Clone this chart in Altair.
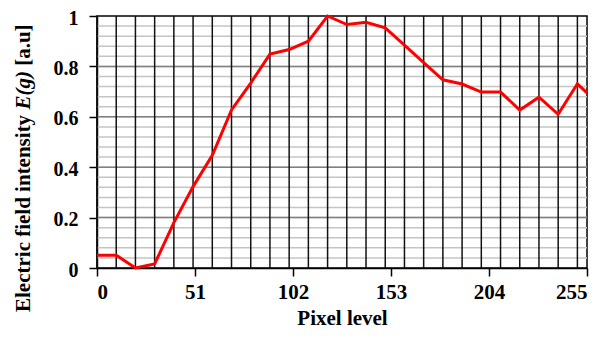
import altair as alt
import pandas as pd

pixel = [0, 10, 20, 30, 40, 50, 60, 70, 80, 90, 100, 110, 120, 130, 140, 150,
         160, 170, 180, 190, 200, 210, 220, 230, 240, 250, 255]
intensity = [0.051, 0.051, 0.0, 0.016, 0.18, 0.323, 0.447, 0.627, 0.734, 0.849,
             0.867, 0.90, 1.0, 0.966, 0.975, 0.953, 0.884, 0.815, 0.747, 0.73,
             0.698, 0.698, 0.627, 0.678, 0.61, 0.731, 0.695]
x_ticks = [0, 51, 102, 153, 204, 255]
y_ticks = [0, 0.2, 0.4, 0.6, 0.8, 1.0]
v_grid = list(range(0, 251, 10))
h_minor = [round(i * 0.04, 2) for i in range(1, 25)]
h_major = [0.2, 0.4, 0.6, 0.8]
y_title_parts = ["Electric field intensity", "E(g)", "[a.u]"]

FONT = "Liberation Serif"
FS = 21

df = pd.DataFrame({"pixel": pixel, "E": intensity})
xs = alt.Scale(domain=[0, 255], nice=False, zero=False)
ys = alt.Scale(domain=[0, 1], nice=False)

x_axis = alt.Axis(values=x_ticks, title="Pixel level", grid=False,
                  tickSize=8, labelPadding=5, titlePadding=5,
                  labelFontSize=FS, titleFontSize=FS)
y_axis = alt.Axis(values=y_ticks, format="~g", title=None,
                  grid=False, tickSize=8, labelPadding=11, labelOffset=2,
                  labelFontSize=20)

minor = alt.Chart(pd.DataFrame({"y": h_minor})).mark_rule(
    color="#c4c4c4", strokeWidth=1.5
).encode(y=alt.Y("y:Q", scale=ys, axis=y_axis))

major = alt.Chart(pd.DataFrame({"y": h_major})).mark_rule(
    color="#808080", strokeWidth=1.5
).encode(y=alt.Y("y:Q", scale=ys, axis=y_axis))

vert = alt.Chart(pd.DataFrame({"x": v_grid})).mark_rule(
    color="#111111", strokeWidth=1.5
).encode(x=alt.X("x:Q", scale=xs, axis=x_axis))

line = alt.Chart(df).mark_line(color="#ff0000", strokeWidth=3).encode(
    x=alt.X("pixel:Q", scale=xs, axis=x_axis),
    y=alt.Y("E:Q", scale=ys, axis=y_axis),
)

# y-axis title in three runs so that E(g) can be italic (Times metrics)
TX = -73
T_START = 296
w1 = 9.388 * FS   # "Electric field intensity" bold
w_sp = 0.25 * FS
w2 = 1.833 * FS   # "E(g)" bold italic
tdf = pd.DataFrame({"a": [y_title_parts[0]], "b": [y_title_parts[1]], "c": [y_title_parts[2]]})
base_t = alt.Chart(tdf)
t1 = base_t.mark_text(font=FONT, fontSize=FS, fontWeight="bold", angle=270,
                      align="left", baseline="middle", color="black").encode(
    text="a:N", x=alt.value(TX), y=alt.value(T_START))
t2 = base_t.mark_text(font=FONT, fontSize=FS, fontWeight="bold", fontStyle="italic",
                      angle=270, align="left", baseline="middle", color="black").encode(
    text="b:N", x=alt.value(TX), y=alt.value(T_START - w1 - w_sp))
t3 = base_t.mark_text(font=FONT, fontSize=FS, fontWeight="bold", angle=270,
                      align="left", baseline="middle", color="black").encode(
    text="c:N", x=alt.value(TX), y=alt.value(T_START - w1 - 2 * w_sp - w2))

chart = alt.layer(minor, major, vert, line, t1, t2, t3).properties(
    width=490, height=252,
    autosize=alt.AutoSizeParams(type="none"),
    padding={"left": 89, "top": 8, "right": 13, "bottom": 62},
).configure_axis(
    labelFont=FONT, titleFont=FONT, labelFontWeight="bold", titleFontWeight="bold",
    labelColor="black", titleColor="black", domainColor="black", tickColor="black",
    domainWidth=1.5, tickWidth=1.5,
).configure_view(stroke="black", strokeWidth=1.5)

chart.save("out.html", embed_options={"renderer": "svg", "actions": False})
